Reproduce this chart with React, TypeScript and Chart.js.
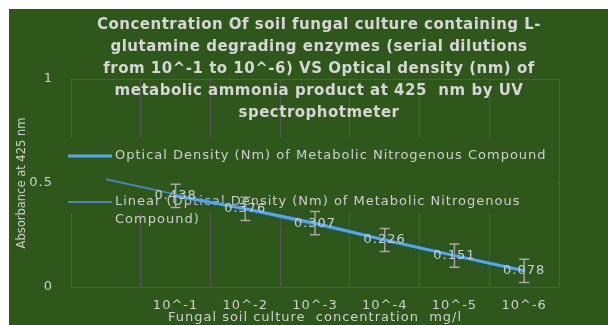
import React, { useEffect, useRef } from "react";
import { Chart, registerables } from "chart.js";

Chart.register(...registerables);

// ---------- data ----------
const categories = ["", "10^-1", "10^-2", "10^-3", "10^-4", "10^-5", "10^-6"];
const opticalDensity: (number | null)[] = [null, 0.438, 0.376, 0.307, 0.226, 0.151, 0.078];
const yTickValues = [0, 0.5, 1];
const titleLines = [
  "Concentration Of soil fungal culture containing L-",
  "glutamine degrading enzymes (serial dilutions",
  "from 10^-1 to 10^-6) VS Optical density (nm) of",
  "metabolic ammonia product at 425  nm by UV",
  "spectrophotmeter",
];
const seriesName = "Optical Density (Nm) of Metabolic Nitrogenous Compound";
const trendNameLines = ["Linear (Optical Density (Nm) of Metabolic Nitrogenous", "Compound)"];
const xAxisTitle = "Fungal soil culture  concentration  mg/l";
const yAxisTitle = "Absorbance at 425 nm";

// ---------- styles ----------
const BG = "#2f561b";
const GRID = "#585458";
const TEXT = "#cfcfcf";
const LINE = "#58a6e6";
const TREND = "#4a86b4";
const ERR = "#a8a8a8";
const FONT = "DejaVu Sans";

// derived: linear trendline (least squares on category index) and standard error
function trendline(values: (number | null)[]) {
  const pts = values
    .map((v, i) => (v == null ? null : [i, v]))
    .filter((p): p is number[] => p !== null);
  const n = pts.length;
  const mx = pts.reduce((s, p) => s + p[0], 0) / n;
  const my = pts.reduce((s, p) => s + p[1], 0) / n;
  let sxy = 0, sxx = 0;
  pts.forEach(([x, y]) => { sxy += (x - mx) * (y - my); sxx += (x - mx) * (x - mx); });
  const b = sxy / sxx;
  const a = my - b * mx;
  return values.map((_, i) => a + b * i);
}
function standardError(values: (number | null)[]) {
  const v = values.filter((x): x is number => x != null);
  const n = v.length;
  const m = v.reduce((s, x) => s + x, 0) / n;
  const sd = Math.sqrt(v.reduce((s, x) => s + (x - m) * (x - m), 0) / (n - 1));
  return sd / Math.sqrt(n);
}

const overlayPlugin = {
  id: "overlay",
  beforeDraw(chart: any) {
    (chart.ctx as any).letterSpacing = "1px";
  },
  beforeDatasetsDraw(chart: any) {
    const ctx = chart.ctx as CanvasRenderingContext2D;
    const area = chart.chartArea;
    ctx.save();
    // legend box (covers grid)
    ctx.fillStyle = BG;
    ctx.fillRect(area.left - 6, 128, area.right - area.left + 5, 76);
    (ctx as any).letterSpacing = "1px";
    ctx.font = `13px "${FONT}"`;
    ctx.fillStyle = TEXT;
    ctx.textBaseline = "middle";
    ctx.textAlign = "left";
    // item 1
    ctx.strokeStyle = LINE;
    ctx.lineWidth = 3;
    ctx.beginPath();
    ctx.moveTo(area.left - 3, 147);
    ctx.lineTo(area.left + 41, 147);
    ctx.stroke();
    ctx.fillText(seriesName, area.left + 44, 147);
    // item 2
    ctx.strokeStyle = TREND;
    ctx.lineWidth = 2;
    ctx.beginPath();
    ctx.moveTo(area.left - 3, 193);
    ctx.lineTo(area.left + 41, 193);
    ctx.stroke();
    trendNameLines.forEach((t, i) => ctx.fillText(t, area.left + 44, 193 + i * 18));

    // redraw right plot border that the legend box covers
    ctx.strokeStyle = GRID;
    ctx.lineWidth = 1;
    ctx.beginPath();
    ctx.moveTo(Math.round(area.right) + 0.5, 128);
    ctx.lineTo(Math.round(area.right) + 0.5, 204);
    ctx.stroke();

    // title
    (ctx as any).letterSpacing = "0.5px";
    ctx.font = `bold 15px "${FONT}"`;
    ctx.fillStyle = "#d6d6d6";
    ctx.textAlign = "center";
    titleLines.forEach((t, i) => ctx.fillText(t, 310, 16 + i * 22));

    // y axis title
    (ctx as any).letterSpacing = "0px";
    ctx.font = `11.5px "${FONT}"`;
    ctx.fillStyle = TEXT;
    ctx.save();
    ctx.translate(13, (area.top + area.bottom) / 2);
    ctx.rotate(-Math.PI / 2);
    ctx.fillText(yAxisTitle, 0, 0);
    ctx.restore();

    // error bars
    const se = standardError(opticalDensity);
    const meta = chart.getDatasetMeta(0);
    const ys = chart.scales.y;
    ctx.strokeStyle = ERR;
    ctx.lineWidth = 1.5;
    meta.data.forEach((pt: any, i: number) => {
      const v = opticalDensity[i];
      if (v == null) return;
      const top = ys.getPixelForValue(v + se);
      const bot = ys.getPixelForValue(v - se);
      ctx.beginPath();
      ctx.moveTo(pt.x, top); ctx.lineTo(pt.x, bot);
      ctx.moveTo(pt.x - 5, top); ctx.lineTo(pt.x + 5, top);
      ctx.moveTo(pt.x - 5, bot); ctx.lineTo(pt.x + 5, bot);
      ctx.stroke();
    });
    ctx.restore();
  },
  beforeDatasetDraw(chart: any, args: any) {
    if (args.index === 0) {
      const ctx = chart.ctx as CanvasRenderingContext2D;
      ctx.save();
      ctx.shadowColor = "rgba(20, 90, 110, 0.8)";
      ctx.shadowBlur = 6;
    }
  },
  afterDatasetDraw(chart: any, args: any) {
    if (args.index === 0) chart.ctx.restore();
  },
  afterDatasetsDraw(chart: any) {
    const ctx = chart.ctx as CanvasRenderingContext2D;
    const meta = chart.getDatasetMeta(0);
    ctx.save();
    (ctx as any).letterSpacing = "1px";
    ctx.font = `13px "${FONT}"`;
    ctx.fillStyle = TEXT;
    ctx.textAlign = "center";
    ctx.textBaseline = "middle";
    meta.data.forEach((pt: any, i: number) => {
      const v = opticalDensity[i];
      if (v == null) return;
      ctx.fillText(v.toFixed(3), pt.x, pt.y);
    });
    ctx.restore();
  },
};

export default function App() {
  const ref = useRef<HTMLCanvasElement>(null);
  useEffect(() => {
    const chart = new Chart(ref.current!, {
      type: "line",
      data: {
        labels: categories,
        datasets: [
          {
            label: seriesName,
            data: opticalDensity,
            borderColor: LINE,
            borderWidth: 3,
            pointRadius: 0,
            tension: 0,
            order: 0,
          },
          {
            label: trendNameLines.join(" "),
            data: trendline(opticalDensity),
            borderColor: TREND,
            borderWidth: 2,
            pointRadius: 0,
            order: 1,
          },
        ],
      },
      options: {
        animation: false,
        responsive: true,
        maintainAspectRatio: false,
        layout: { padding: { top: 70, right: 49, left: 0, bottom: 0 } },
        plugins: { legend: { display: false }, title: { display: false }, tooltip: { enabled: false } },
        scales: {
          x: {
            type: "category",
            offset: true,
            grid: { offset: true, color: GRID, drawTicks: false, lineWidth: 1 },
            border: { display: true, color: GRID },
            ticks: { color: TEXT, font: { family: FONT, size: 13 }, padding: 11, maxRotation: 0, autoSkip: false },
            title: {
              display: true,
              text: xAxisTitle,
              color: TEXT,
              font: { family: FONT, size: 13 },
              padding: { top: 0, bottom: 0 },
            },
            afterFit: (s: any) => { s.height = 38; },
          },
          y: {
            min: 0,
            max: 1,
            afterBuildTicks: (s: any) => { s.ticks = yTickValues.map((v) => ({ value: v })); },
            grid: { display: true, color: GRID, drawTicks: false, lineWidth: 1 },
            border: { display: false },
            ticks: { color: TEXT, font: { family: FONT, size: 13 }, padding: 18, callback: (v: any) => String(v) },
            afterFit: (s: any) => { s.width = 62; },
          },
        },
      },
      plugins: [overlayPlugin],
    });
    return () => chart.destroy();
  }, []);
  return (
    <div style={{ position: "absolute", left: 9, top: 9, width: 599, height: 316, background: BG }}>
      <canvas ref={ref} />
    </div>
  );
}
